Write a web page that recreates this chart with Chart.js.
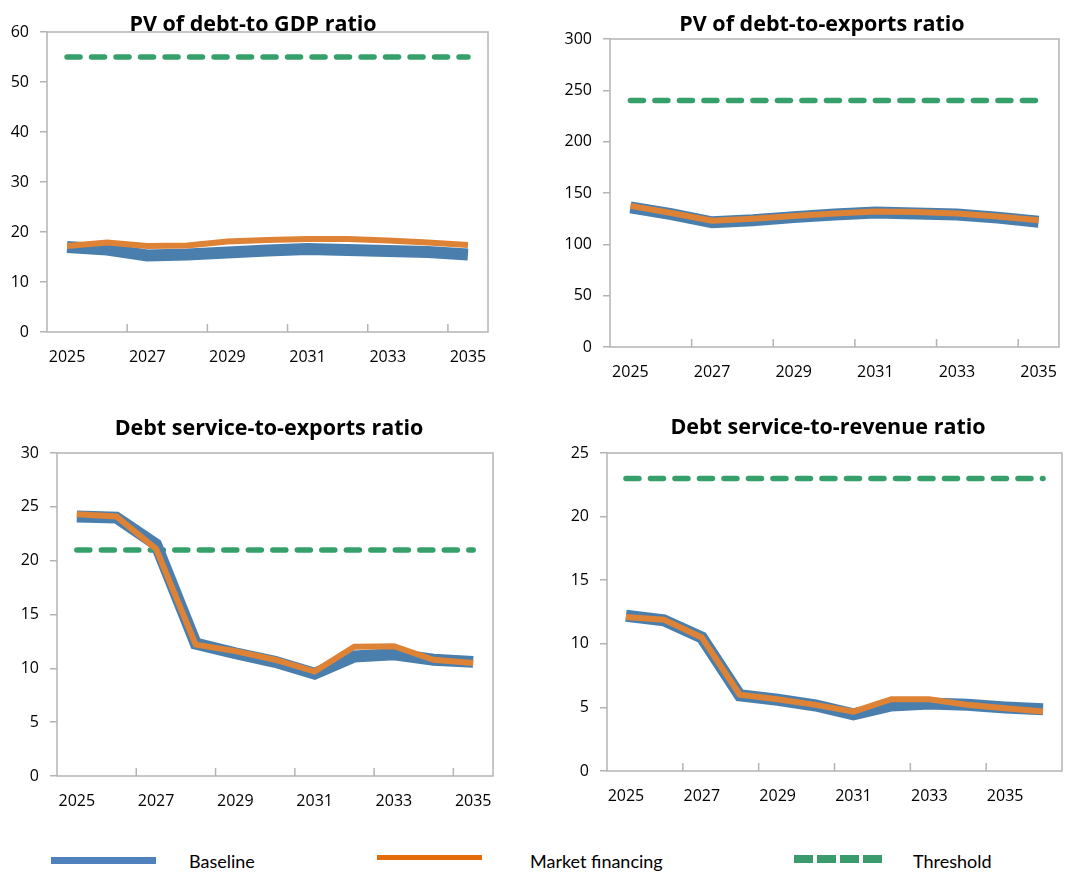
<!DOCTYPE html>
<html>
<head>
<meta charset="utf-8">
<script src="https://cdn.jsdelivr.net/npm/chart.js@4.4.1/dist/chart.umd.min.js"></script>
<style>
  html, body { margin: 0; padding: 0; background: #fff; }
  body { position: relative; width: 1074px; height: 874px; overflow: hidden; }
  canvas { position: absolute; }
  .title {
    position: absolute; width: 460px; text-align: center;
    font: 700 21.5px/26px "Open Sans", "Noto Sans", sans-serif; color: #000;
  }
  .key { position: absolute; }
  .key-text {
    position: absolute; font: 18px/22px Lato, "Noto Sans", sans-serif; color: #000;
  }
</style>
</head>
<body>

<div class="key" style="left:51px; top:857px; width:105px; height:7px; background:#4f81bd;"></div>
<div class="key-text" style="left:189px; top:850px;">Baseline</div>
<div class="key" style="left:377px; top:855px; width:105px; height:5px; background:#e46c0a;"></div>
<div class="key-text" style="left:530px; top:850px;">Market financing</div>
<div class="key" style="left:794px; top:855px; width:89px; height:8px; background:repeating-linear-gradient(to right, #3a9c6c 0 19.5px, transparent 19.5px 23px);"></div>
<div class="key-text" style="left:913px; top:850px;">Threshold</div>

<script>
/* ---------- Data ---------- */

const years = ["2025", "2026", "2027", "2028", "2029", "2030", "2031", "2032", "2033", "2034", "2035"];
const yearsLong = ["2025", "2026", "2027", "2028", "2029", "2030", "2031", "2032", "2033", "2034", "2035", "2036"];

const gdpBaseline = [17.0, 16.5, 15.3, 15.5, 15.9, 16.3, 16.6, 16.4, 16.2, 16.0, 15.5];
const gdpMarket = [17.2, 17.9, 17.2, 17.3, 18.1, 18.4, 18.6, 18.6, 18.3, 17.9, 17.4];
const gdpThreshold = [55, 55, 55, 55, 55, 55, 55, 55, 55, 55, 55];

const exportsBaseline = [136, 129.5, 121.5, 123.5, 126.5, 129, 131, 130, 129, 126, 122];
const exportsMarket = [137.5, 130.5, 123, 125, 127.5, 130, 132, 131.5, 130, 127, 123.5];
const exportsThreshold = [240, 240, 240, 240, 240, 240, 240, 240, 240, 240, 240];

const serviceExportsBaseline = [24.1, 24.0, 21.5, 12.3, 11.4, 10.6, 9.5, 11.1, 11.3, 10.8, 10.6];
const serviceExportsMarket = [24.3, 24.1, 21.1, 12.2, 11.6, 10.8, 9.7, 12.0, 12.05, 10.8, 10.5];
const serviceExportsThreshold = [21, 21, 21, 21, 21, 21, 21, 21, 21, 21, 21];

const serviceRevenueBaseline = [12.2, 11.85, 10.5, 5.95, 5.6, 5.15, 4.45, 5.15, 5.3, 5.2, 5.0, 4.85];
const serviceRevenueMarket = [12.1, 11.9, 10.5, 6.0, 5.64, 5.2, 4.67, 5.64, 5.64, 5.2, 4.93, 4.67];
const serviceRevenueThreshold = [23, 23, 23, 23, 23, 23, 23, 23, 23, 23, 23, 23];

/* ---------- Layout ---------- */

// box = canvas [left, top, width, height], plot = [left, top, right, bottom], titleAt = centre
const PANELS = [
    { title: "PV of debt-to GDP ratio", labels: years, baseline: gdpBaseline, market: gdpMarket,
      threshold: gdpThreshold, max: 60, step: 10,
      box: [0, 0, 537, 400], plot: [47, 32, 488, 332], titleAt: [253, 23] },
    { title: "PV of debt-to-exports ratio", labels: years, baseline: exportsBaseline, market: exportsMarket,
      threshold: exportsThreshold, max: 300, step: 50,
      box: [537, 0, 537, 400], plot: [610, 39, 1059, 347], titleAt: [822, 23] },
    { title: "Debt service-to-exports ratio", labels: years, baseline: serviceExportsBaseline,
      market: serviceExportsMarket, threshold: serviceExportsThreshold, max: 30, step: 5,
      box: [0, 400, 537, 430], plot: [57, 453, 493, 776], titleAt: [269, 427] },
    { title: "Debt service-to-revenue ratio", labels: yearsLong, baseline: serviceRevenueBaseline,
      market: serviceRevenueMarket, threshold: serviceRevenueThreshold, max: 25, step: 5,
      box: [537, 400, 537, 430], plot: [607, 453, 1062, 771], titleAt: [828, 426] }
];

const AXIS_COLOR = "#b4b4b4";
const BLUE = "#4a7fad";
const ORANGE = "#de8236";
const GREEN = "#36a06b";
const X_HEIGHT = 40;

Chart.defaults.font.family = '"Open Sans", "Noto Sans", sans-serif';
Chart.defaults.font.size = 16;
Chart.defaults.color = "#000";

// plot frame plus the short x tick marks that point into the plot
const frameAndTicks = {
    id: "frameAndTicks",
    beforeDatasetsDraw(chart) {
        const { ctx, chartArea: area } = chart;
        const x = chart.scales.x;
        const half = (x.getPixelForValue(1) - x.getPixelForValue(0)) / 2;
        ctx.save();
        ctx.strokeStyle = AXIS_COLOR;
        ctx.lineWidth = 1.5;
        ctx.strokeRect(area.left, area.top, area.width, area.height);
        ctx.beginPath();
        for (let i = 2; i < chart.data.labels.length; i += 2) {
            const px = x.getPixelForValue(i) - half;
            ctx.moveTo(px, area.bottom);
            ctx.lineTo(px, area.bottom - 8);
        }
        ctx.stroke();
        ctx.restore();
    }
};

function drawPanel(panel) {

    const [left, top, width, height] = panel.box;
    const [plotLeft, plotTop, plotRight, plotBottom] = panel.plot;
    const yWidth = plotLeft - left;     // y labels get the whole strip left of the plot

    const canvas = document.createElement("canvas");
    canvas.width = width;
    canvas.height = height;
    canvas.style.left = left + "px";
    canvas.style.top = top + "px";
    document.body.appendChild(canvas);

    const title = document.createElement("div");
    title.className = "title";
    title.textContent = panel.title;
    title.style.left = (panel.titleAt[0] - 230) + "px";
    title.style.top = (panel.titleAt[1] - 13) + "px";
    document.body.appendChild(title);

    new Chart(canvas, {
        type: "line",
        data: {
            labels: panel.labels,
            datasets: [
                { label: "Market financing", data: panel.market, borderColor: ORANGE, borderWidth: 6, order: 0 },
                { label: "Baseline", data: panel.baseline, borderColor: BLUE, borderWidth: 12, order: 1 },
                { label: "Threshold", data: panel.threshold, borderColor: GREEN, borderWidth: 5.5,
                  borderDash: [13, 11.5], borderCapStyle: "round", order: 2 }
            ]
        },
        options: {
            responsive: false,
            animation: false,
            devicePixelRatio: 1,
            layout: {
                padding: {
                    left: 0,
                    top: plotTop - top,
                    right: left + width - plotRight,
                    bottom: top + height - plotBottom - X_HEIGHT
                }
            },
            elements: { point: { radius: 0 }, line: { tension: 0, fill: false } },
            plugins: { legend: { display: false }, tooltip: { enabled: false }, title: { display: false } },
            scales: {
                x: {
                    offset: true,
                    grid: { display: false, drawTicks: false },
                    border: { display: false },
                    ticks: {
                        autoSkip: false,
                        maxRotation: 0,
                        padding: 16,
                        callback(value, index) {
                            return index % 2 ? null : this.getLabelForValue(value);
                        }
                    },
                    afterFit(scale) { scale.height = X_HEIGHT; }
                },
                y: {
                    min: 0,
                    max: panel.max,
                    grid: { drawOnChartArea: false, color: AXIS_COLOR, lineWidth: 1.5, tickLength: 7 },
                    border: { display: false },
                    ticks: { stepSize: panel.step, padding: 11 },
                    afterFit(scale) { scale.width = yWidth; }
                }
            }
        },
        plugins: [frameAndTicks]
    });

}

PANELS.forEach(drawPanel);
</script>
</body>
</html>
